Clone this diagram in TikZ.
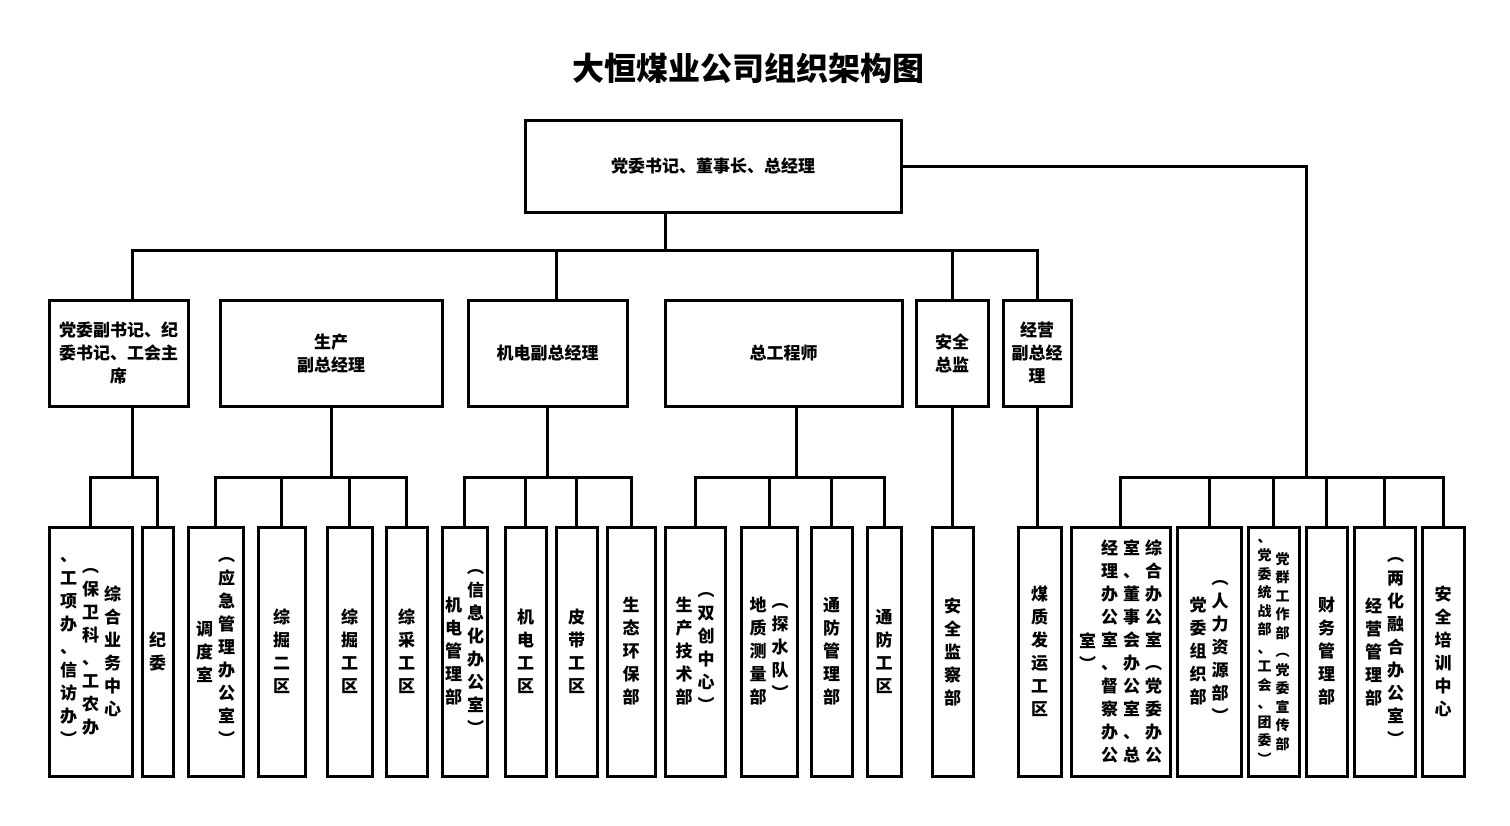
\documentclass[tikz,border=0pt]{standalone}
\usepackage{fontspec}
\setmainfont{Noto Sans CJK SC}
\makeatletter
\def\vpitch{23pt}\def\vwid{22pt}
\newcommand\vcol[1]{\vbox{\baselineskip=\vpitch\lineskiplimit=-30pt\lineskip=0pt\@tfor\ch:=#1\do{\hbox to \vwid{\hss\ch\hss}}}}
\makeatother
\newcommand\vc[1]{$\vcenter{\vcol{#1}}$}
\tikzset{box/.style={draw,line width=3pt,inner sep=0pt,align=center,font=\bfseries\fontsize{17}{23}\selectfont},
 con/.style={line width=3pt,line cap=rect}}
\newcommand\bx[6]{\node[box,minimum width={(#3-#2)*1pt},minimum height={(#5-#4)*1pt}] (#1) at ({(#2+#3)/2},{(#4+#5)/2}) {#6};}
\newcommand\bt[4]{\bx{#1}{#2}{#3}{527}{776}{#4}}
\begin{document}
\begin{tikzpicture}[x=1pt,y=-1pt]
\fill[white] (0,0) rectangle (1510,825);
\useasboundingbox (0,0) rectangle (1510,825);
\node[font=\bfseries\fontsize{32}{36}\selectfont] (title) at (748,68) {大恒煤业公司组织架构图};
\bx{top}{525}{901}{120}{212}{党委书记、董事长、总经理}
\bx{A}{49}{188}{300}{406}{党委副书记、纪\\委书记、工会主\\席}
\bx{B}{220}{442}{300}{406}{生产\\副总经理}
\bx{C}{468}{627}{300}{406}{机电副总经理}
\bx{D}{665}{902}{300}{406}{总工程师}
\bx{E}{916}{988}{300}{406}{安全\\总监}
\bx{F}{1003}{1071}{300}{406}{经营\\副总经\\理}
\bt{k1}{49}{132}{\vc{、工项办、信访办︶}\vc{︵保卫科、工农办}\vc{综合业务中心}}
\bt{k2}{142}{173}{\vc{纪委}}
\bt{k3}{188}{243}{\vc{调度室}\vc{︵应急管理办公室︶}}
\bt{k4}{258}{305}{\vc{综掘二区}}
\bt{k5}{327}{372}{\vc{综掘工区}}
\bt{k6}{386}{427}{\vc{综采工区}}
\bt{k7}{442}{487}{\vc{机电管理部}\vc{︵信息化办公室︶}}
\bt{k8}{505}{546}{\vc{机电工区}}
\bt{k9}{556}{597}{\vc{皮带工区}}
\bt{k10}{607}{655}{\vc{生态环保部}}
\bt{k11}{665}{725}{\vc{生产技术部}\vc{︵双创中心︶}}
\bt{k12}{741}{797}{\vc{地质测量部}\vc{︵探水队︶}}
\bt{k13}{811}{852}{\vc{通防管理部}}
\bt{k14}{867}{901}{\vc{通防工区}}
\bt{k15}{932}{973}{\vc{安全监察部}}
\bt{k16}{1018}{1061}{\vc{煤质发运工区}}
\bt{k17}{1071}{1170}{\vc{室︶}\vc{经理办公室、督察办公}\vc{室、董事会办公室、总}\vc{综合办公室︵党委办公}}
\bt{k18}{1177}{1241}{\vc{党委组织部}\vc{︵人力资源部︶}}
\bt{k19}{1248}{1299}{\def\vpitch{18.5pt}\def\vwid{18pt}\fontsize{14}{18}\selectfont\vc{、党委统战部、工会、团委︶}\vc{党群工作部︵党委宣传部}}
\bt{k20}{1306}{1347}{\vc{财务管理部}}
\bt{k21}{1354}{1415}{\vc{经营管理部}\vc{︵两化融合办公室︶}}
\bt{k22}{1422}{1464}{\vc{安全培训中心}}
% top level
\coordinate (tb) at (665,250);
\coordinate (a1) at (132,250);
\coordinate (c1) at (556,250);
\draw[con] (top.south -| tb) -- (tb);
\draw[con] (a1) -- (F.north |- tb);
\draw[con] (a1) -- (a1 |- A.north);
\draw[con] (c1) -- (c1 |- C.north);
\draw[con] (E.north) -- (E.north |- tb);
\draw[con] (F.north) -- (F.north |- tb);
% A group
\coordinate (a2) at (132,477);
\draw[con] (a2 |- A.south) -- (a2);
\draw[con] (k1.north |- a2) -- (k2.north |- a2);
\foreach \c in {k1,k2} \draw[con] (\c.north) -- (\c.north |- a2);
% B group
\draw[con] (B.south) -- (B.south |- a2);
\draw[con] (k3.north |- a2) -- (k6.north |- a2);
\foreach \c in {k3,k4,k5,k6} \draw[con] (\c.north) -- (\c.north |- a2);
% C group
\draw[con] (C.south) -- (C.south |- a2);
\draw[con] (k7.north |- a2) -- (k10.north |- a2);
\foreach \c in {k7,k8,k9,k10} \draw[con] (\c.north) -- (\c.north |- a2);
% D group
\coordinate (d2) at (796,477);
\draw[con] (d2 |- D.south) -- (d2);
\draw[con] (k11.north |- a2) -- (k14.north |- a2);
\foreach \c in {k11,k12,k13,k14} \draw[con] (\c.north) -- (\c.north |- a2);
% E, F
\draw[con] (E.south) -- (E.south |- k15.north);
\draw[con] (F.south) -- (F.south |- k16.north);
% right group
\coordinate (r2) at (1306,477);
\draw[con] (top.east) -| (r2);
\draw[con] (k17.north |- a2) -- (k22.north |- a2);
\foreach \c in {k17,k18,k19,k20,k21,k22} \draw[con] (\c.north) -- (\c.north |- a2);
\end{tikzpicture}
\end{document}
